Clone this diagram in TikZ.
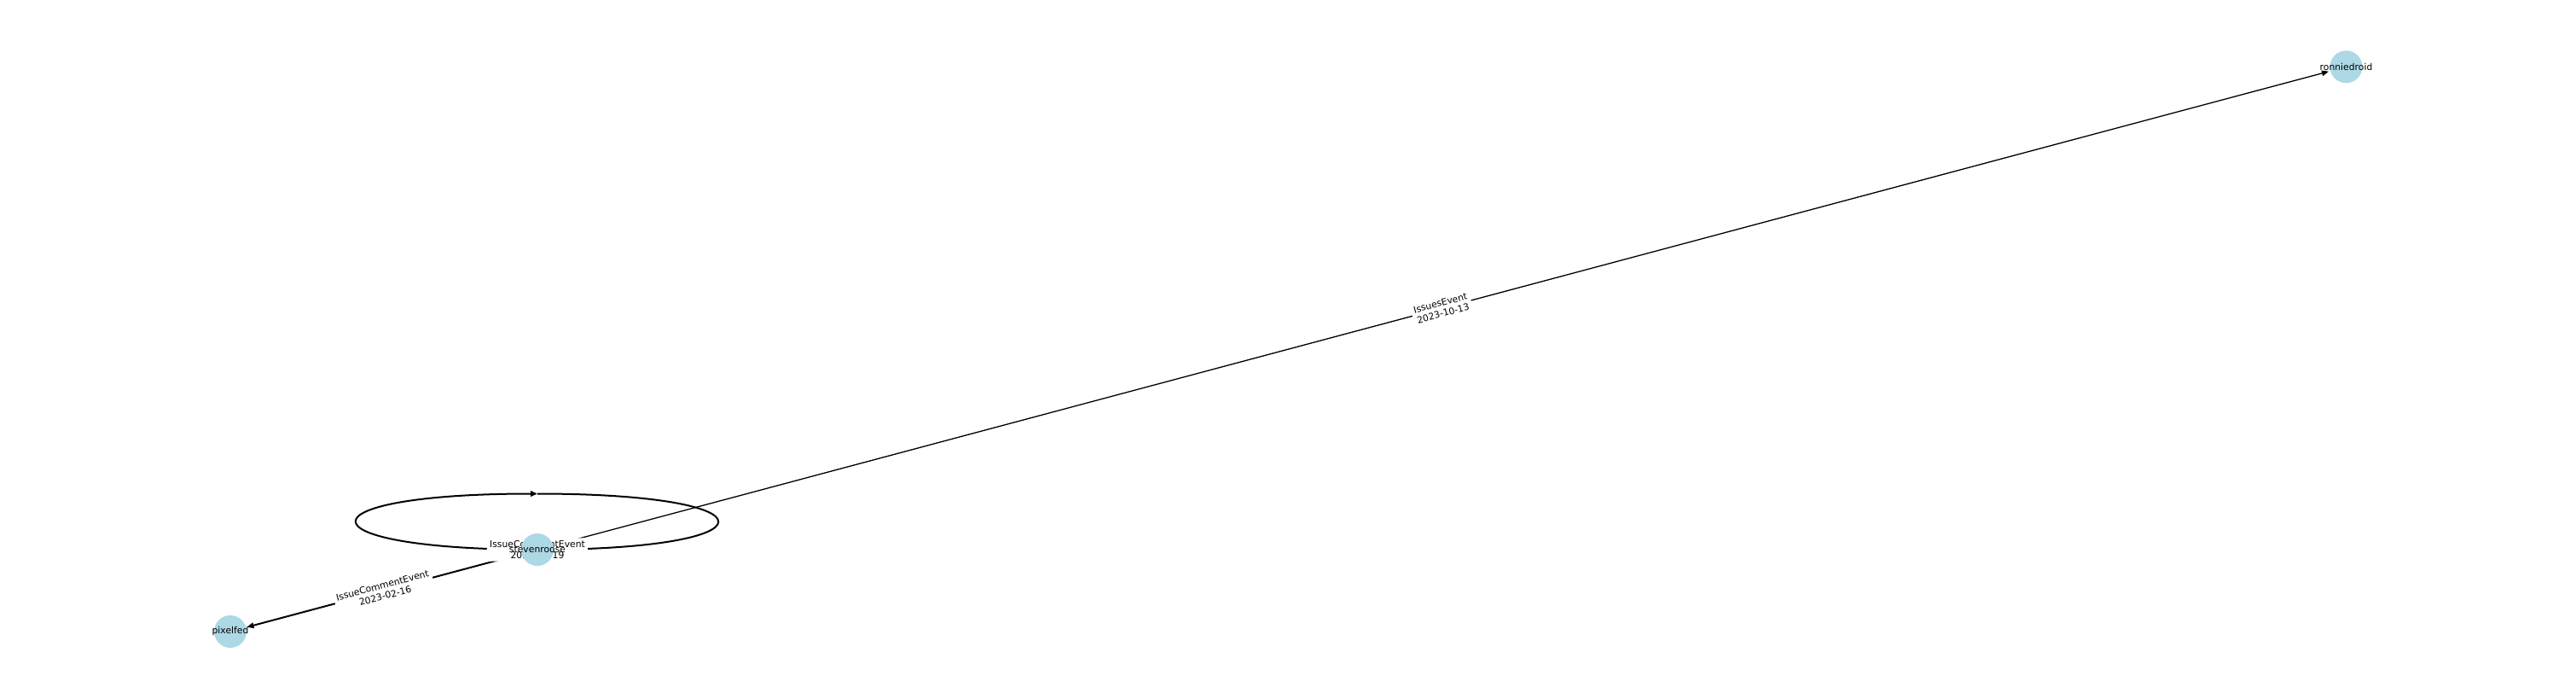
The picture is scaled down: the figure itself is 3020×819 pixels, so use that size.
\documentclass[tikz,border=0pt]{standalone}
\usepackage{fontspec}
\setmainfont{DejaVu Sans}
\usetikzlibrary{arrows.meta}
\definecolor{nodeblue}{RGB}{173,216,230}
\pgfdeclarelayer{edgelayer}
\pgfsetlayers{edgelayer,main}
\begin{document}
\begin{tikzpicture}[x=1pt,y=-1pt,
  vert/.style={circle,fill=nodeblue,draw=none,minimum size=38pt,inner sep=0pt,
    font=\fontsize{10.8}{12.6}\selectfont},
  elabel/.style={fill=white,draw=none,rounded corners=3pt,inner sep=3.2pt,align=center,
    font=\fontsize{10.8}{12.6}\selectfont},
  thinedge/.style={line width=1.3pt,-{Triangle[length=8pt,width=6.5pt]},shorten >=2pt},
  thickedge/.style={line width=2pt,-{Triangle[length=8pt,width=6.5pt]},shorten >=1pt},
  loopedge/.style={line width=2pt,-{Triangle[length=8pt,width=6.5pt]}}]
\useasboundingbox (0,0) rectangle (3020,819);
% nodes (drawn on top)
\node[vert] (s) at (630,644) {\makebox[0pt]{stevenroose}};
\node[vert] (p) at (270,740) {\makebox[0pt]{pixelfed}};
\node[vert] (r) at (2750.5,78.3) {\makebox[0pt]{ronniedroid}};
\coordinate (lt) at (630,578.5);
\begin{pgfonlayer}{edgelayer}
\draw[thinedge] (s) -- node[elabel,sloped,midway] (l1) {IssuesEvent\\2023-10-13} (r);
\draw[thickedge] (s) -- node[elabel,sloped,midway] (l2) {IssueCommentEvent\\2023-02-16} (p);
\draw[loopedge] (lt) .. controls +(283,0) and +(283,0) .. (s.center)
  .. controls +(-283,0) and +(-283,0) .. (lt);
\node[elabel] (l3) at (s.center) {IssueCommentEvent\\2023-03-19};
\end{pgfonlayer}
\end{tikzpicture}
\end{document}
